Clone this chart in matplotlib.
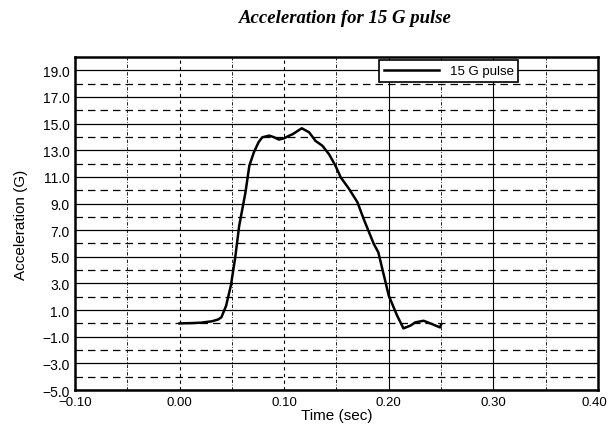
import matplotlib
matplotlib.use("Agg")
import matplotlib.pyplot as plt
import matplotlib.transforms as mtransforms
from matplotlib.ticker import FixedLocator, FuncFormatter

plt.rcParams['font.family'] = ['Liberation Sans', 'DejaVu Sans']

title = "Acceleration for 15 G pulse"
series_name = "15 G pulse"
xlabel = "Time (sec)"
ylabel = "Acceleration (G)"

time = [0.000, 0.010, 0.020, 0.031, 0.037, 0.040, 0.0445, 0.049, 0.053, 0.057,
        0.063, 0.0667, 0.071, 0.0755, 0.079, 0.0857, 0.0905, 0.095, 0.100, 0.105,
        0.108, 0.1168, 0.1238, 0.130, 0.1365, 0.1429, 0.149, 0.154, 0.162, 0.170,
        0.176, 0.1857, 0.190, 0.200, 0.208, 0.214, 0.2206, 0.2254, 0.2333, 0.2413,
        0.249, 0.250]
accel = [0.0, 0.02, 0.05, 0.16, 0.3, 0.46, 1.33, 2.83, 4.83, 7.33,
         9.84, 11.84, 12.84, 13.6, 13.97, 14.1, 13.97, 13.8, 13.9, 14.1,
         14.2, 14.65, 14.35, 13.7, 13.34, 12.7, 11.84, 10.97, 10.1, 9.1,
         7.84, 5.96, 5.34, 2.08, 0.58, -0.37, -0.17, 0.08, 0.2, -0.05,
         -0.3, -0.1]

y_major = [-5, -3, -1, 1, 3, 5, 7, 9, 11, 13, 15, 17, 19]
y_minor = [-4, -2, 0, 2, 4, 6, 8, 10, 12, 14, 16, 18]
x_major = [-0.10, 0.00, 0.10, 0.20, 0.30, 0.40]
x_minor = [-0.05, 0.05, 0.15, 0.25, 0.35]
x_solid = [0.20, 0.30]
x_dashed = [0.00, 0.10]

fig = plt.figure(figsize=(6.11, 4.31), dpi=100)
ax = fig.add_axes([0.1227, 0.0928, 0.856, 0.7726])
ax.set_xlim(-0.10, 0.40)
ax.set_ylim(-5, 20)

for v in y_major:
    ax.axhline(v, color='black', lw=0.9, zorder=1)
for v in y_minor:
    ax.axhline(v, color='black', lw=0.9, ls=(0, (6, 4)), zorder=1)
for v in x_solid:
    ax.axvline(v, color='black', lw=0.8, zorder=1)
for v in x_dashed:
    ax.axvline(v, color='black', lw=0.8, ls=(0, (3, 3)), zorder=1)
for v in x_minor:
    ax.axvline(v, color='black', lw=0.6, ls=(0, (4, 2, 1, 2)), zorder=1)

ax.plot(time, accel, color='black', lw=1.8, label=series_name, zorder=3)


def fmt(dec):
    return FuncFormatter(lambda v, p: f"{v:.{dec}f}".replace('-', '\u2212'))


ax.xaxis.set_major_locator(FixedLocator(x_major))
ax.yaxis.set_major_locator(FixedLocator(y_major))
ax.xaxis.set_major_formatter(fmt(2))
ax.yaxis.set_major_formatter(fmt(1))
ax.tick_params(length=0, labelsize=10)
ax.tick_params(axis='x', pad=4, labelsize=9.5)
ax.tick_params(axis='y', pad=4)
for s in ax.spines.values():
    s.set_linewidth(1.8)

ax.set_xlabel(xlabel, fontsize=11, labelpad=0)
ax.set_ylabel(ylabel, fontsize=11, labelpad=10)

# nudge the last x tick label so it stays inside the figure
fig.canvas.draw()
last = ax.get_xticklabels()[-1]
last.set_transform(last.get_transform() +
                   mtransforms.ScaledTranslation(-4 / 100, 0, fig.dpi_scale_trans))

leg = ax.legend(loc='upper right', bbox_to_anchor=(0.86, 1.01), fontsize=9.5,
                frameon=True, fancybox=False, framealpha=1, edgecolor='black',
                handlelength=4.2, borderpad=0.35, handletextpad=0.8)
leg.get_frame().set_linewidth(1.2)
leg.set_zorder(5)

fig.text(0.565, 0.957, title, ha='center', va='center', fontsize=13.5,
         family='Liberation Serif', style='italic', weight='bold')

fig.savefig('out.png', dpi=100)
